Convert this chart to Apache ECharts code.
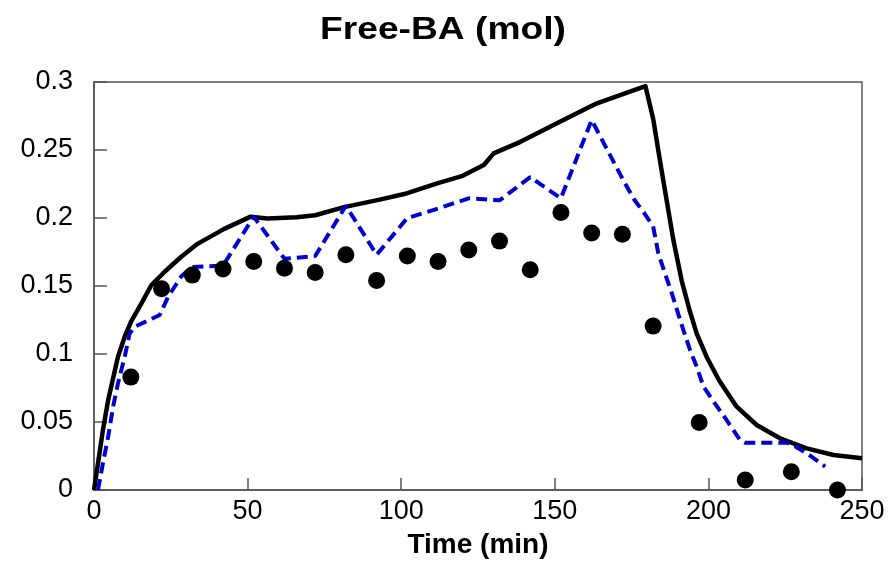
<!DOCTYPE html>
<html>
<head>
<meta charset="utf-8">
<title>Free-BA (mol)</title>
<script src="https://cdn.jsdelivr.net/npm/echarts@6/dist/echarts.min.js"></script>
<style>
  html, body { margin: 0; padding: 0; background: #ffffff; }
  #chart { width: 889px; height: 564px; }
</style>
</head>
<body>
<div id="chart"></div>
<script>
// Measured free benzoic acid (mol) over time
const measuredTime = [12, 22, 32, 42, 52, 62, 72, 82, 92, 102, 112, 122, 132, 142, 152, 162, 172, 182, 197, 212, 227, 242];
const measuredBA   = [0.083, 0.148, 0.158, 0.1625, 0.168, 0.163, 0.160, 0.173, 0.154, 0.172, 0.168, 0.1765, 0.183, 0.162, 0.204, 0.189, 0.188, 0.1205, 0.0497, 0.0074, 0.0135, 0.0];

// Model curve (solid black)
const modelTime = [0, 1.3, 2.9, 4.6, 6.2, 7.8, 10, 12.1, 15.4, 18.7, 23, 28.4, 33.7, 42.4, 51, 56.5, 66, 72, 81.4, 93, 101, 111.7, 120, 126.9, 130.1, 138.8, 150.7, 163.7, 179.5, 182.1, 184.2, 186.4, 188.6, 191.3, 193.9, 196.2, 199.4, 203.5, 209.2, 215.7, 223.3, 232, 240.7, 250];
const modelBA   = [0, 0.0196, 0.044, 0.066, 0.082, 0.098, 0.1127, 0.124, 0.137, 0.1507, 0.1605, 0.1715, 0.181, 0.192, 0.201, 0.1997, 0.2005, 0.202, 0.208, 0.2135, 0.2176, 0.2255, 0.231, 0.239, 0.2475, 0.256, 0.2696, 0.2843, 0.297, 0.272, 0.2426, 0.2132, 0.1838, 0.154, 0.132, 0.115, 0.098, 0.0805, 0.0613, 0.0478, 0.038, 0.0306, 0.0257, 0.0233];

// Second model curve (blue dashed)
const model2Time = [1.3, 2.9, 4.6, 6.2, 7.8, 10, 11.6, 13.2, 17, 21.4, 24.1, 28.4, 31.7, 42, 52, 62, 72, 82, 92, 102, 112, 122, 132, 142, 152, 162, 172, 176, 179, 182, 183.7, 185.9, 188.1, 190.8, 194, 196.2, 198.4, 202.1, 205.9, 210.3, 211.9, 225.5, 227.6, 232, 238];
const model2BA   = [0, 0.0196, 0.039, 0.061, 0.0784, 0.098, 0.115, 0.12, 0.124, 0.1287, 0.142, 0.157, 0.164, 0.165, 0.201, 0.170, 0.172, 0.209, 0.173, 0.200, 0.207, 0.2145, 0.213, 0.230, 0.2145, 0.272, 0.229, 0.213, 0.204, 0.194, 0.174, 0.159, 0.1446, 0.125, 0.103, 0.0907, 0.076, 0.0637, 0.0515, 0.0368, 0.0348, 0.0348, 0.033, 0.027, 0.0172];

// Axis ticks
const xTicks = [0, 50, 100, 150, 200, 250];
const yTicks = [0, 0.05, 0.1, 0.15, 0.2, 0.25, 0.3];

const zip = (xs, ys) => xs.map((x, i) => [x, ys[i]]);

const FONT = '"Liberation Sans", Arial, Helvetica, sans-serif';
const AXIS_COLOR = '#555555';

const chart = echarts.init(document.getElementById('chart'), null, { renderer: 'canvas' });

chart.setOption({
  animation: false,
  backgroundColor: '#ffffff',
  // Title drawn as a slightly widened bold heading
  graphic: [{
    type: 'text',
    x: 443,
    y: 30,
    scaleX: 1.2,
    style: {
      text: 'Free-BA (mol)',
      font: 'bold 31px ' + FONT,
      fill: '#000',
      align: 'center',
      verticalAlign: 'middle'
    }
  }],
  grid: {
    left: 94, right: 27, top: 82, bottom: 74,
    show: true, borderColor: AXIS_COLOR, borderWidth: 1.5, backgroundColor: '#fff'
  },
  xAxis: {
    type: 'value',
    min: xTicks[0], max: xTicks[xTicks.length - 1], interval: xTicks[1] - xTicks[0],
    name: 'Time (min)',
    nameLocation: 'middle',
    nameGap: 41,
    nameTextStyle: { fontFamily: FONT, fontSize: 28, fontWeight: 'bold', color: '#000' },
    axisLine: { show: true, lineStyle: { color: AXIS_COLOR, width: 1.5 } },
    axisTick: { show: true, inside: true, length: 12, lineStyle: { color: AXIS_COLOR, width: 1.5 } },
    axisLabel: { fontFamily: FONT, fontSize: 27, color: '#000', margin: 8 },
    splitLine: { show: false }
  },
  yAxis: {
    type: 'value',
    min: yTicks[0], max: yTicks[yTicks.length - 1], interval: yTicks[1] - yTicks[0],
    axisLine: { show: true, lineStyle: { color: AXIS_COLOR, width: 1.5 } },
    axisTick: { show: true, inside: true, length: 13, lineStyle: { color: AXIS_COLOR, width: 1.5 } },
    axisLabel: {
      fontFamily: FONT, fontSize: 27, color: '#000', margin: 21,
      formatter: v => String(+v.toFixed(2))
    },
    splitLine: { show: false }
  },
  series: [
    {
      name: 'Model',
      type: 'line',
      data: zip(modelTime, modelBA),
      showSymbol: false,
      symbol: 'none',
      lineStyle: { color: '#000000', width: 4.5, join: 'round' },
      z: 3
    },
    {
      name: 'Model 2',
      type: 'line',
      data: zip(model2Time, model2BA),
      showSymbol: false,
      symbol: 'none',
      lineStyle: { color: '#0000cc', width: 4, type: [11, 6] },
      z: 4
    },
    {
      name: 'Measured',
      type: 'scatter',
      data: zip(measuredTime, measuredBA),
      symbol: 'circle',
      symbolSize: 17,
      itemStyle: { color: '#000000', opacity: 1 },
      clip: false,
      z: 5
    }
  ]
});
</script>
</body>
</html>
